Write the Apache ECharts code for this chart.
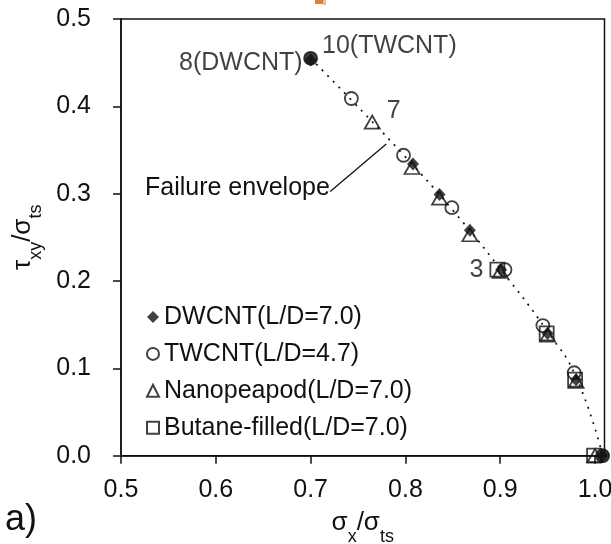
<!DOCTYPE html>
<html><head><meta charset="utf-8">
<script src="https://cdn.jsdelivr.net/npm/echarts@6/dist/echarts.min.js"></script>
<style>html,body{margin:0;padding:0;background:#fff}#c{width:611px;height:544px}</style>
</head><body><div id="c"></div>
<script>
const seriesNames = ['DWCNT(L/D=7.0)', 'TWCNT(L/D=4.7)', 'Nanopeapod(L/D=7.0)', 'Butane-filled(L/D=7.0)'];
const dwcnt  = [[0.700,0.453],[0.808,0.334],[0.836,0.299],[0.868,0.258],[0.901,0.213],[0.950,0.140],[0.980,0.087],[1.008,0.000]];
const twcnt  = [[0.700,0.455],[0.743,0.409],[0.798,0.344],[0.849,0.284],[0.905,0.213],[0.945,0.149],[0.978,0.095],[1.008,0.000]];
const peapod = [[0.765,0.382],[0.807,0.330],[0.836,0.295],[0.868,0.253],[0.900,0.211],[0.950,0.138],[0.980,0.085],[1.000,0.000]];
const butane = [[0.897,0.213],[0.949,0.140],[0.979,0.087],[0.999,0.000]];
const envelope = [[0.700,0.455],[0.745,0.405],[0.800,0.342],[0.850,0.281],[0.900,0.214],[0.950,0.142],[0.980,0.090],[1.008,0.000]];
const arrowFromTo = [[0.7207,0.3024],[0.7798,0.357]];
const xTicks = [0.5,0.6,0.7,0.8,0.9,1.0];
const yTicks = [0.0,0.1,0.2,0.3,0.4,0.5];
const labelDW = '8(DWCNT)', labelTW = '10(TWCNT)', labelPea = '7', labelBut = '3';
const envelopeText = 'Failure envelope';
const panelText = 'a)';

const FONT = '"Liberation Sans", Arial, sans-serif';
const INK = '#111';
const FS = 25;

function withLabel(arr, idx, lab) {
  return arr.map((p, i) => i === idx ? { value: p, label: lab } : p);
}
const openStyle = { color: 'rgba(0,0,0,0)', borderColor: INK, borderWidth: 1.8 };
// TWCNT points overlapping DWCNT end points look solid black in the reference
const twData = twcnt.map((p, i) => {
  const o = { value: p };
  if (i === 0 || i === twcnt.length - 1) o.itemStyle = { color: INK };
  if (i === 0) o.label = { show: true, formatter: labelTW, position: 'right', distance: 4, offset: [0, -12], fontSize: FS, fontFamily: FONT, color: INK };
  return o;
});

const chart = echarts.init(document.getElementById('c'), null, { renderer: 'canvas' });
chart.setOption({
  animation: false,
  backgroundColor: '#fff',
  textStyle: { fontFamily: FONT, color: INK },
  grid: { left: 121, right: 6.5, top: 19, bottom: 88.3, outerBoundsMode: 'none', containLabel: false,
          show: true, borderColor: INK, borderWidth: 1.5, backgroundColor: 'transparent' },
  xAxis: {
    type: 'value', min: 0.5, max: 1.01,
    axisLine: { lineStyle: { color: INK, width: 1.5 } },
    axisTick: { show: true, length: 8, inside: false, customValues: xTicks, lineStyle: { color: INK, width: 1.5 } },
    axisLabel: { customValues: xTicks, formatter: v => v.toFixed(1), fontSize: FS, fontFamily: FONT, color: INK, margin: 22 },
    splitLine: { show: false },
    name: '{m|σ}{s|x}{m|/σ}{s|ts}', nameLocation: 'middle', nameGap: 52,
    nameTextStyle: { fontFamily: FONT, color: INK, rich: {
      m: { fontSize: 26, fontFamily: FONT, color: INK, lineHeight: 30 },
      s: { fontSize: 18, fontFamily: FONT, color: INK, verticalAlign: 'bottom', lineHeight: 18, padding: [0,0,-8,0] }
    } }
  },
  yAxis: {
    type: 'value', min: 0, max: 0.5, interval: 0.1,
    axisLine: { show: true, lineStyle: { color: INK, width: 1.5 } },
    axisTick: { show: true, length: 8, inside: false, lineStyle: { color: INK, width: 1.5 } },
    axisLabel: { formatter: v => v.toFixed(1), fontSize: FS, fontFamily: FONT, color: INK, margin: 30 },
    splitLine: { show: false },
    name: '{m|τ}{s|xy}{m|/σ}{s|ts}', nameLocation: 'middle', nameGap: 78,
    nameTextStyle: { fontFamily: FONT, color: INK, rich: {
      m: { fontSize: 26, fontFamily: FONT, color: INK, lineHeight: 30 },
      s: { fontSize: 18, fontFamily: FONT, color: INK, verticalAlign: 'bottom', lineHeight: 18, padding: [0,0,-8,0] }
    } }
  },
  legend: {
    data: seriesNames, orient: 'vertical', left: 146, top: 303, padding: 0,
    itemWidth: 12, itemHeight: 12, itemGap: 8.9,
    textStyle: { fontSize: FS, fontFamily: FONT, color: INK, lineHeight: 28 }
  },
  series: [
    {
      type: 'line', name: 'envelope', data: envelope, smooth: true, showSymbol: false, symbol: 'none',
      lineStyle: { color: INK, width: 1.7, type: [2, 6] }, z: 1, silent: true,
      markLine: {
        silent: true, symbol: ['none', 'arrow'], symbolSize: [0, 11],
        lineStyle: { color: INK, width: 1.3, type: 'solid' }, label: { show: false },
        data: [[{ coord: arrowFromTo[0] }, { coord: arrowFromTo[1] }]]
      }
    },
    {
      type: 'scatter', name: seriesNames[3], symbol: 'rect', symbolSize: 14, itemStyle: openStyle, z: 2,
      data: withLabel(butane, 0, { show: true, formatter: labelBut, position: 'left', distance: 6, fontSize: FS, fontFamily: FONT, color: INK })
    },
    {
      type: 'scatter', name: seriesNames[2], symbol: 'triangle', symbolSize: [15, 13], itemStyle: openStyle, z: 3,
      data: withLabel(peapod, 0, { show: true, formatter: labelPea, position: 'right', distance: 6, offset: [0, -11], fontSize: FS, fontFamily: FONT, color: INK })
    },
    {
      type: 'scatter', name: seriesNames[1], symbol: 'circle', symbolSize: 13, itemStyle: openStyle, z: 4,
      data: twData
    },
    {
      type: 'scatter', name: seriesNames[0], symbol: 'diamond', symbolSize: [12, 13], itemStyle: { color: INK }, z: 5,
      data: withLabel(dwcnt, 0, { show: true, formatter: labelDW, position: 'left', distance: 2, offset: [0, 3], fontSize: FS, fontFamily: FONT, color: INK })
    }
  ],
  graphic: [
    { type: 'text', left: 145, top: 176, style: { text: envelopeText, font: FS + 'px ' + FONT, fill: INK } },
    { type: 'text', left: 5, top: 502, style: { text: panelText, font: '36px ' + FONT, fill: INK } },
    { type: 'rect', shape: { x: 315, y: 0, width: 8, height: 4 }, style: { fill: '#f07a20' } },
    { type: 'rect', shape: { x: 323, y: 0, width: 3, height: 5 }, style: { fill: '#c8c8c8' } }
  ]
});
</script>
</body></html>
